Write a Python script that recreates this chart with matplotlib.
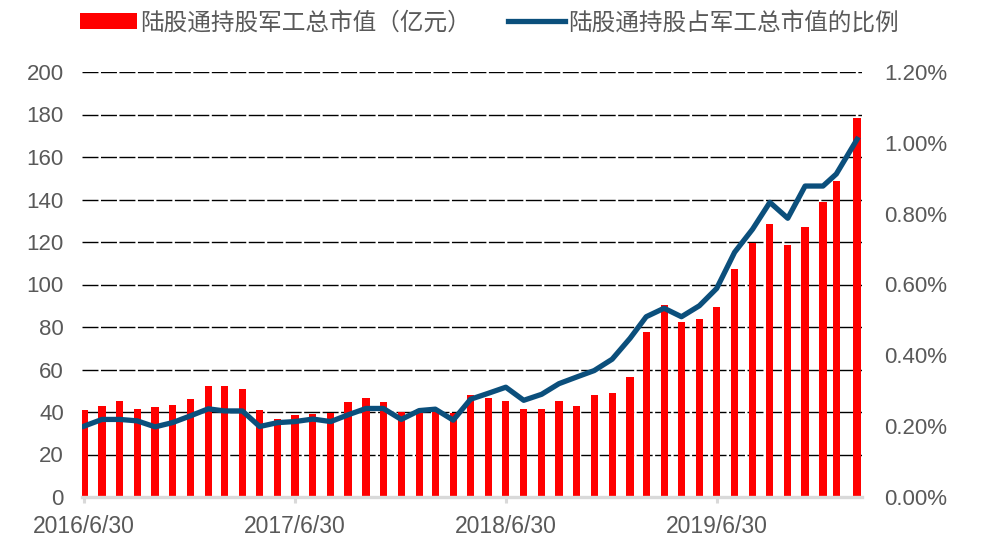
import matplotlib
matplotlib.use("Agg")
import matplotlib.pyplot as plt
import matplotlib.dates as mdates
from matplotlib.ticker import FuncFormatter, MultipleLocator
from matplotlib.patches import Patch
from matplotlib.lines import Line2D
import pandas as pd

plt.rcParams['font.family'] = ['Liberation Sans', 'Noto Sans CJK SC', 'DejaVu Sans']

dates = ["2016-06-30", "2016-07-31", "2016-08-31", "2016-09-30", "2016-10-31", "2016-11-30", "2016-12-31",
         "2017-01-31", "2017-02-28", "2017-03-31", "2017-04-30", "2017-05-31", "2017-06-30",
         "2017-07-31", "2017-08-31", "2017-09-30", "2017-10-31", "2017-11-30", "2017-12-31",
         "2018-01-31", "2018-02-28", "2018-03-31", "2018-04-30", "2018-05-31", "2018-06-30",
         "2018-07-31", "2018-08-31", "2018-09-30", "2018-10-31", "2018-11-30", "2018-12-31",
         "2019-01-31", "2019-02-28", "2019-03-31", "2019-04-30", "2019-05-31", "2019-06-30",
         "2019-07-31", "2019-08-31", "2019-09-30", "2019-10-31", "2019-11-30", "2019-12-31",
         "2020-01-23", "2020-02-28"]

market_value = [41.0, 43.0, 45.0, 41.4, 42.4, 43.3, 46.0, 52.2, 52.2, 50.8, 40.9, 36.5, 38.4,
                39.0, 39.5, 44.5, 46.4, 44.5, 40.1, 41.2, 40.9, 39.3, 47.8, 46.5, 45.0,
                41.4, 41.4, 45.2, 42.7, 47.8, 48.8, 56.3, 77.8, 90.4, 82.2, 83.6, 89.6,
                107.3, 119.7, 128.6, 118.7, 127.2, 138.7, 148.8, 178.2]

ratio_pct = [0.200, 0.219, 0.219, 0.215, 0.198, 0.210, 0.229, 0.249, 0.243, 0.243, 0.199, 0.210, 0.213,
             0.220, 0.213, 0.232, 0.250, 0.250, 0.219, 0.244, 0.248, 0.217, 0.276, 0.293, 0.310,
             0.273, 0.290, 0.320, 0.339, 0.357, 0.389, 0.448, 0.509, 0.533, 0.509, 0.540, 0.589,
             0.691, 0.756, 0.832, 0.787, 0.878, 0.878, 0.912, 1.010]

tick_dates = ["2016-06-30", "2017-06-30", "2018-06-30", "2019-06-30"]
tick_labels = ["2016/6/30", "2017/6/30", "2018/6/30", "2019/6/30"]

label_bar = "陆股通持股军工总市值（亿元）"
label_line = "陆股通持股占军工总市值的比例"

x = pd.to_datetime(dates)
text_color = "#595959"
bar_color = "#FF0000"
line_color = "#0B4F7C"

fig = plt.figure(figsize=(10.08, 5.5), dpi=100)
ax = fig.add_axes([82/1008, 1-497/550, (862-82)/1008, (497-72)/550])
ax2 = ax.twinx()

ax.bar(x, market_value, width=12.5, color=bar_color, zorder=2)
ax2.plot(x, ratio_pct, color=line_color, lw=3.8, solid_joinstyle='round', zorder=3)

ax.set_ylim(0, 200)
ax.yaxis.set_major_locator(MultipleLocator(20))
ax2.set_ylim(0, 1.2)
ax2.yaxis.set_major_locator(MultipleLocator(0.2))
ax2.yaxis.set_major_formatter(FuncFormatter(lambda v, p: f"{v:.2f}%"))

x0 = mdates.date2num(pd.Timestamp("2016-06-30")) - 3.5
x1 = mdates.date2num(pd.Timestamp("2016-06-30")) + (862 - 84) / 0.5778
ax.set_xlim(x0, x1)

ax.set_xticks(pd.to_datetime(tick_dates))
ax.set_xticklabels(tick_labels)

ax.set_axisbelow(True)
ax.yaxis.grid(True, color="black", lw=1.0, linestyle=(0, (11.5, 1.8)))
ax.xaxis.grid(False)

for a in (ax, ax2):
    for s in ("top", "left", "right", "bottom"):
        a.spines[s].set_visible(False)
ax.spines["bottom"].set_visible(True)
ax.spines["bottom"].set_color("#D9D9D9")
ax.spines["bottom"].set_linewidth(2.4)
ax.spines["bottom"].set_zorder(4)

ax.tick_params(axis='x', colors="#D9D9D9", length=4, width=2.2, direction='out', pad=9,
               labelsize=16.5, labelcolor=text_color)
ax.tick_params(axis='y', length=0, pad=13, labelsize=16, labelcolor=text_color)
ax2.tick_params(axis='y', length=0, pad=16, labelsize=16, labelcolor=text_color)

handles = [Patch(facecolor=bar_color, edgecolor='none'),
           Line2D([0], [0], color=line_color, lw=3.8)]
fig.legend(handles, [label_bar, label_line], loc='center left',
           bbox_to_anchor=(80/1008, 1-23/550), ncol=2, frameon=False,
           labelcolor=text_color, handlelength=2.4, handleheight=0.68,
           handletextpad=0.13, columnspacing=1.6, borderpad=0, borderaxespad=0,
           prop={'family': ['Noto Sans CJK SC'], 'size': 17})

fig.savefig("out.png", dpi=100)
